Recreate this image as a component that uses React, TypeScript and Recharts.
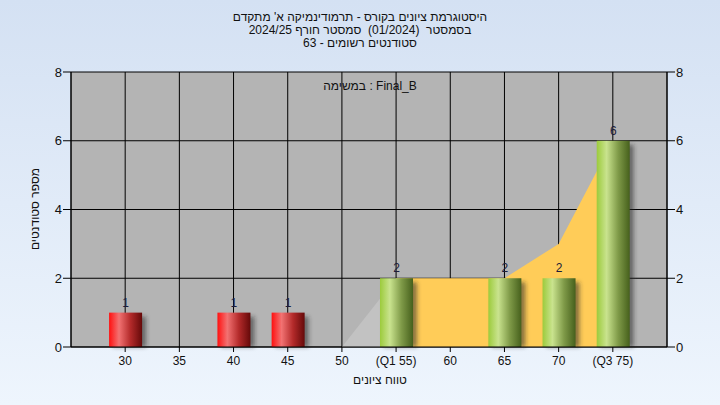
import {
  ComposedChart,
  Bar,
  Area,
  XAxis,
  YAxis,
  CartesianGrid,
  LabelList,
} from "recharts";

// histogram bins (grade ranges) and student counts
const grades = [30, 35, 40, 45, 50, 55, 60, 65, 70, 75];
const gradeLabels = ["30", "35", "40", "45", "50", "(Q1 55)", "60", "65", "70", "(Q3 75)"];
const counts = [1, 0, 1, 1, 0, 2, 0, 2, 2, 6];
// background shaded curve: grey part below Q1, yellow part between Q1 and Q3
const lowCurve = [null, null, null, null, 0, 2, null, null, null, null];
const midCurve = [null, null, null, null, null, 2, 2, 2, 3, 6];
const yTicks = [0, 2, 4, 6, 8];

const q1 = 55;

const data = grades.map((g, i) => ({
  grade: g,
  count: counts[i],
  low: lowCurve[i],
  mid: midCurve[i],
}));

const labelFor = (v: number) => gradeLabels[grades.indexOf(v)] ?? String(v);

const font = "'Liberation Sans', Arial, sans-serif";

function ShadedBar(props: any) {
  const { x, y, width, height, payload } = props;
  if (!height || height <= 0) return null;
  const fill = payload.grade < q1 ? "url(#redBar)" : "url(#greenBar)";
  return (
    <g>
      <rect
        x={x + 4}
        y={y + 4}
        width={width}
        height={height - 4}
        fill="rgba(40,40,40,0.55)"
        filter="url(#barShadow)"
      />
      <rect x={x} y={y} width={width} height={height} fill={fill} />
    </g>
  );
}

export default function App() {
  return (
    <div
      style={{
        position: "absolute",
        left: 0,
        top: 0,
        width: 720,
        height: 405,
        background: "linear-gradient(180deg, #d4e1f3 0%, #eef5fd 100%)",
        fontFamily: font,
        overflow: "hidden",
      }}
    >
      <div
        dir="rtl"
        style={{
          position: "absolute",
          top: 11,
          left: 0,
          width: 720,
          textAlign: "center",
          fontSize: 12,
          lineHeight: "13px",
          color: "#111",
        }}
      >
        <div>היסטוגרמת ציונים בקורס - תרמודינמיקה א' מתקדם</div>
        <div>בסמסטר&nbsp;&nbsp;(01/2024)&nbsp;&nbsp;סמסטר חורף 2024/25</div>
        <div>סטודנטים רשומים - 63</div>
      </div>

      <ComposedChart
        width={720}
        height={405}
        data={data}
        margin={{ top: 72, right: 0, bottom: 28, left: 0 }}
      >
        <defs>
          <linearGradient id="redBar" x1="0" y1="0" x2="1" y2="0">
            <stop offset="0%" stopColor="#ff1010" />
            <stop offset="30%" stopColor="#f27272" />
            <stop offset="65%" stopColor="#b32a2a" />
            <stop offset="100%" stopColor="#650909" />
          </linearGradient>
          <linearGradient id="greenBar" x1="0" y1="0" x2="1" y2="0">
            <stop offset="0%" stopColor="#9ccb3c" />
            <stop offset="30%" stopColor="#c9e38e" />
            <stop offset="65%" stopColor="#7f9a48" />
            <stop offset="100%" stopColor="#46601c" />
          </linearGradient>
          <filter id="barShadow" x="-50%" y="-50%" width="200%" height="200%">
            <feGaussianBlur stdDeviation="2" />
          </filter>
        </defs>
        <CartesianGrid
          yAxisId="left"
          fill="#b4b4b4"
          stroke="#000"
          strokeOpacity={1}
        />
        <XAxis
          dataKey="grade"
          type="number"
          domain={[25, 80]}
          ticks={grades}
          tickFormatter={labelFor}
          allowDataOverflow
          height={30}
          tickSize={5}
          tickMargin={4}
          stroke="#000"
          tick={{ fill: "#111", fontSize: 12, fontFamily: font }}
        />
        <YAxis
          yAxisId="left"
          domain={[0, 8]}
          ticks={yTicks}
          width={71}
          tickSize={8}
          tickMargin={1}
          stroke="#000"
          tick={{ fill: "#111", fontSize: 13, fontFamily: font }}
        />
        <YAxis
          yAxisId="right"
          orientation="right"
          domain={[0, 8]}
          ticks={yTicks}
          width={53}
          tickSize={8}
          tickMargin={1}
          stroke="#000"
          tick={{ fill: "#111", fontSize: 13, fontFamily: font }}
        />
        <Area
          yAxisId="right"
          dataKey="low"
          type="linear"
          stroke="none"
          fill="#c2c2c2"
          fillOpacity={1}
          isAnimationActive={false}
        />
        <Area
          yAxisId="left"
          dataKey="mid"
          type="linear"
          stroke="none"
          fill="#ffcc58"
          fillOpacity={1}
          isAnimationActive={false}
        />
        <Bar
          yAxisId="left"
          dataKey="count"
          barSize={33}
          shape={ShadedBar}
          isAnimationActive={false}
        >
          <LabelList
            dataKey="count"
            position="top"
            offset={6}
            formatter={(v: any) => (v ? v : "")}
            style={{ fill: "#1c1c3a", fontSize: 12, fontFamily: font }}
          />
        </Bar>
      </ComposedChart>

      <div
        style={{
          position: "absolute",
          top: 79,
          left: 320,
          width: 100,
          textAlign: "center",
          fontSize: 12,
          color: "#111",
          whiteSpace: "nowrap",
        }}
      >
        במשימה : Final_B
      </div>
      <div
        style={{
          position: "absolute",
          top: 373,
          left: 330,
          width: 100,
          textAlign: "center",
          fontSize: 12,
          color: "#111",
        }}
      >
        טווח ציונים
      </div>
      <div
        style={{
          position: "absolute",
          left: -15,
          top: 202,
          width: 100,
          textAlign: "center",
          fontSize: 12,
          color: "#111",
          transform: "rotate(-90deg)",
        }}
      >
        מספר סטודנטים
      </div>
    </div>
  );
}
